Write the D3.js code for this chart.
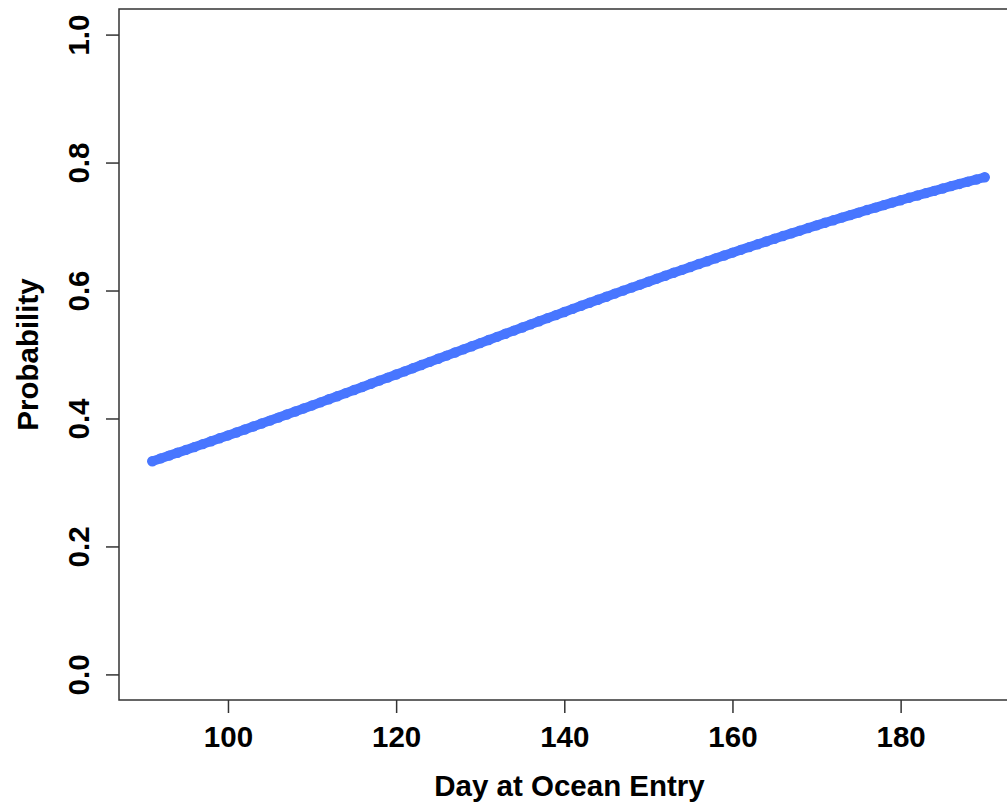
<!DOCTYPE html>
<html><head><meta charset="utf-8">
<script src="https://cdn.jsdelivr.net/npm/d3@7"></script>
<style>body{margin:0;background:#fff;overflow:hidden}svg{display:block}</style>
</head><body>
<script>
const days = d3.range(91, 191);
const probability = [
0.3332,0.3376,0.3420,0.3465,0.3509,
0.3553,0.3599,0.3644,0.3690,0.3735,
0.3781,0.3828,0.3874,0.3921,0.3967,
0.4014,0.4062,0.4109,0.4157,0.4204,
0.4252,0.4300,0.4348,0.4397,0.4445,
0.4493,0.4542,0.4591,0.4639,0.4688,
0.4737,0.4786,0.4835,0.4884,0.4933,
0.4982,0.5031,0.5080,0.5129,0.5178,
0.5227,0.5276,0.5325,0.5373,0.5422,
0.5471,0.5519,0.5568,0.5616,0.5665,
0.5713,0.5761,0.5808,0.5856,0.5903,
0.5951,0.5998,0.6045,0.6091,0.6138,
0.6185,0.6231,0.6277,0.6322,0.6368,
0.6414,0.6458,0.6503,0.6547,0.6592,
0.6636,0.6679,0.6722,0.6766,0.6809,
0.6852,0.6893,0.6935,0.6976,0.7018,
0.7059,0.7099,0.7139,0.7178,0.7218,
0.7258,0.7296,0.7334,0.7373,0.7411,
0.7449,0.7485,0.7522,0.7558,0.7595,
0.7631,0.7666,0.7701,0.7735,0.7770];
const xTicks = [100, 120, 140, 160, 180];
const yTicks = [0.0, 0.2, 0.4, 0.6, 0.8, 1.0];
const xLabel = "Day at Ocean Entry";
const yLabel = "Probability";

(function(){
const W = 1007, H = 805;
const mL = 119, mR = 1018, mT = 9, mB = 700;
const xr = [91, 190], xpad = (xr[1]-xr[0])*0.04;
const x = d3.scaleLinear().domain([xr[0]-xpad, xr[1]+xpad]).range([mL, mR]);
const y = d3.scaleLinear().domain([-0.04, 1.04]).range([mB, mT]);
const FONT = "'Liberation Sans', Arial, sans-serif";
const FS = 29.5;
const COL = "#4876FF";

const svg = d3.select("body").append("svg").attr("width", W).attr("height", H)
  .style("font-family", FONT);

const pts = days.map((d,i) => [d, probability[i]]);
svg.append("path").datum(pts)
  .attr("d", d3.line().x(p => x(p[0])).y(p => y(p[1])))
  .attr("fill", "none").attr("stroke", COL).attr("stroke-width", 9.5)
  .attr("stroke-linecap", "round").attr("stroke-linejoin", "round");
svg.append("g").selectAll("circle").data(pts).join("circle")
  .attr("cx", p => x(p[0])).attr("cy", p => y(p[1]))
  .attr("r", 5.2).attr("fill", COL);

svg.append("rect").attr("x", mL).attr("y", mT)
  .attr("width", mR-mL).attr("height", mB-mT)
  .attr("fill", "none").attr("stroke", "#333").attr("stroke-width", 1.5);

const xa = svg.append("g").attr("transform", `translate(0,${mB})`)
  .call(d3.axisBottom(x).tickValues(xTicks).tickSize(13).tickPadding(13).tickFormat(d3.format("d")));
xa.select(".domain").remove();
xa.selectAll("line").attr("stroke", "#333").attr("stroke-width", 1.5);
xa.selectAll("text").attr("font-size", FS).attr("font-weight", "bold").attr("fill", "#000")
  .attr("font-family", FONT);

const ya = svg.append("g").attr("transform", `translate(${mL},0)`)
  .call(d3.axisLeft(y).tickValues(yTicks).tickSize(13).tickFormat(d3.format(".1f")));
ya.select(".domain").remove();
ya.selectAll("line").attr("stroke", "#333").attr("stroke-width", 1.5);
ya.selectAll("text").attr("font-size", FS).attr("font-weight", "bold").attr("fill", "#000")
  .attr("font-family", FONT)
  .attr("transform", "rotate(-90)").attr("x", 0).attr("y", -30).attr("dy", 0)
  .attr("text-anchor", "middle");

svg.append("text").attr("x", (mL+mR)/2 + 1).attr("y", 796).attr("text-anchor", "middle")
  .attr("font-size", FS).attr("font-weight", "bold").text(xLabel);
svg.append("text").attr("transform", `translate(38,${(mT+mB)/2}) rotate(-90)`)
  .attr("text-anchor", "middle").attr("font-size", FS).attr("font-weight", "bold").text(yLabel);
})();
</script>
</body></html>
